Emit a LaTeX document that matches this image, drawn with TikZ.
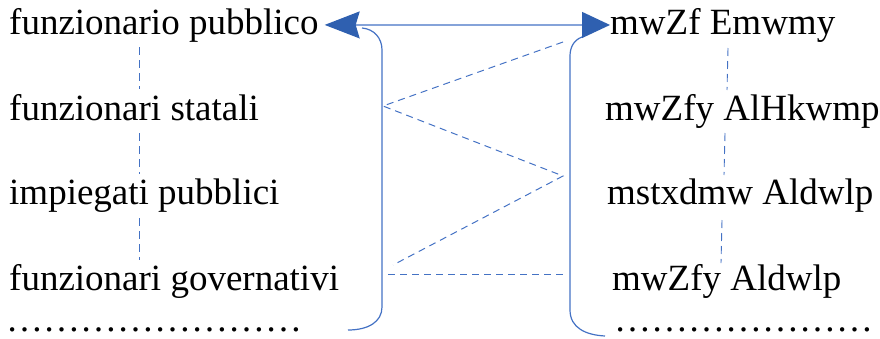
\documentclass[tikz,border=0pt]{standalone}
\usepackage{fontspec}
\setmainfont{Liberation Serif}
\usetikzlibrary{arrows.meta}
\definecolor{linkblue}{RGB}{68,114,196}
\definecolor{tipblue}{RGB}{47,96,176}
\tikzset{
  term/.style={font=\fontsize{37}{44}\selectfont, inner sep=0pt, anchor=base west},
  dotrow/.style={term, text depth=0pt, text height=6pt},
  bracketline/.style={draw=linkblue, line width=1.2pt},
  linkline/.style={draw=linkblue, line width=1pt, dash pattern=on 7pt off 5pt},
  chainline/.style={draw=linkblue, line width=0.9pt, dash pattern=on 8pt off 5pt},
  mainarrow/.style={draw=linkblue, line width=1.2pt,
    {Stealth[length=35pt, width=27pt, inset=4pt, color=tipblue]}-{Triangle[length=28pt, width=26pt, color=tipblue]}}
}
\begin{document}
\begin{tikzpicture}[x=1pt, y=-1pt]
\useasboundingbox (0,0) rectangle (880,338);

% left column of terms
\node[term] (l1) at (9,34)  {funzionario pubblico};
\node[term] (l2) at (9,120) {funzionari statali};
\node[term] (l3) at (9,204) {impiegati pubblici};
\node[term] (l4) at (9,290) {funzionari governativi};
\node[dotrow] (l5) at (6,331) {……………………};

% right column of terms
\node[term] (r1) at (610,34)  {mwZf Emwmy};
\node[term] (r2) at (605,120) {mwZfy AlHkwmp};
\node[term] (r3) at (607,204) {mstxdmw Aldwlp};
\node[term] (r4) at (612,290) {mwZfy Aldwlp};
\node[dotrow] (r5) at (614,331) {…………………};

% double-headed link between the two headwords
\draw[mainarrow] ([xshift=6pt]l1.east) -- (r1.west);

% left bracket
\draw[bracketline] (362,28) .. controls (374,29) and (382,38) .. (382,50)
  -- (382,307) .. controls (382,322) and (368,330) .. (348,330);

% right bracket
\draw[bracketline] (582,37) .. controls (574,40) and (570,47) .. (570,56)
  -- (570,310) .. controls (570,328) and (586,335) .. (605,336);

% zig-zag of dashed links between the brackets
\coordinate (z1) at (563,42);
\coordinate (z2) at (383,106);
\coordinate (z3) at (563,176);
\coordinate (z4) at (393,265);
\draw[linkline] (z1) -- (z2) -- (z3) -- (z4);
\coordinate (h1) at (388,274);
\coordinate (h2) at (563,274);
\draw[linkline] (h1) -- (h2);

% dashed chains down the left column
\coordinate (a1) at (139,47);  \coordinate (a2) at (139,89);
\coordinate (a3) at (139,133); \coordinate (a4) at (139,174);
\coordinate (a5) at (139,218); \coordinate (a6) at (139,260);
\draw[chainline] (a1) -- (a2);
\draw[chainline] (a3) -- (a4);
\draw[chainline] (a5) -- (a6);

% dashed chains down the right column
\coordinate (b1) at (728,48);  \coordinate (b2) at (727,90);
\coordinate (b3) at (725,133); \coordinate (b4) at (724,175);
\coordinate (b5) at (722,220); \coordinate (b6) at (721,263);
\draw[chainline] (b1) -- (b2);
\draw[chainline] (b3) -- (b4);
\draw[chainline] (b5) -- (b6);
\end{tikzpicture}
\end{document}
